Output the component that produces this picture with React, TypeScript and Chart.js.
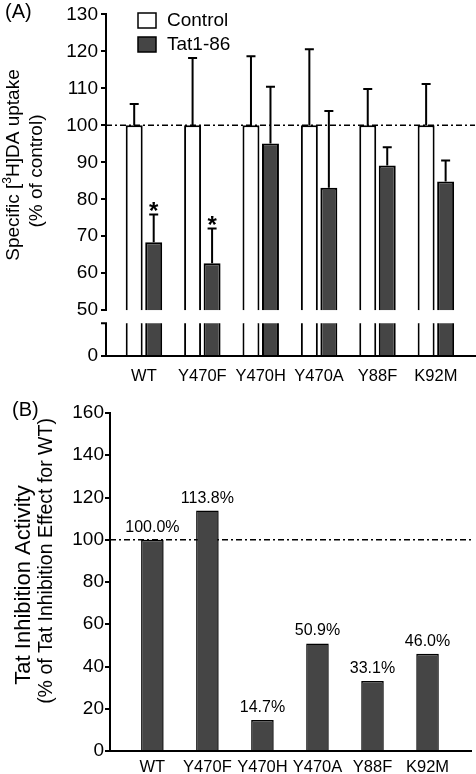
import React, { useEffect, useRef } from 'react';
import { Chart, registerables } from 'chart.js';

Chart.register(...registerables);

// ---------- data ----------
const CATEGORIES = ['WT', 'Y470F', 'Y470H', 'Y470A', 'Y88F', 'K92M'];

// Panel A: specific [3H]DA uptake (% of control), mean and upper SEM
const CONTROL_MEAN = [100, 100, 100, 100, 100, 100];
const CONTROL_ERR = [5.8, 18.2, 18.7, 20.6, 9.8, 11.2];
const TAT_MEAN = [68.4, 62.7, 95.1, 83.1, 89.1, 84.8];
const TAT_ERR = [7.5, 9.4, 15.3, 20.8, 5.0, 5.7];
const TAT_SIGNIFICANT = [true, true, false, false, false, false];
const SERIES_NAMES = ['Control', 'Tat1-86'];

const A_UPPER_MIN = 50;
const A_UPPER_MAX = 130;
const A_UPPER_STEP = 10;
const A_LOWER_MIN = 0;
const A_LOWER_MAX = 10;
const A_LOWER_TICKS = [0];

// Panel B: Tat inhibition activity (% of Tat inhibition effect for WT)
const INHIBITION = [100.0, 113.8, 14.7, 50.9, 33.1, 46.0];
const B_MIN = 0;
const B_MAX = 160;
const B_STEP = 20;

const REFERENCE_VALUE = 100;

// ---------- styles ----------
const FONT = "'Liberation Sans', Arial, Helvetica, sans-serif";
const DARK = '#454545';
const BLACK = '#000';
const BREAK_GAP = 13;
const DASH = [6, 3, 2, 3];

const W = 476;
const H_A = 390;
const H_B = 384;

function drawRotatedParts(ctx: any, cx: number, cy: number, parts: any[]) {
  ctx.save();
  ctx.translate(cx, cy);
  ctx.rotate(-Math.PI / 2);
  ctx.fillStyle = BLACK;
  ctx.textBaseline = 'middle';
  ctx.textAlign = 'left';
  let total = 0;
  const widths = parts.map((p) => {
    ctx.font = `${p.size}px ${FONT}`;
    const w = ctx.measureText(p.text).width;
    total += w;
    return w;
  });
  let x = -total / 2;
  parts.forEach((p, i) => {
    ctx.font = `${p.size}px ${FONT}`;
    ctx.fillText(p.text, x, p.dy || 0);
    x += widths[i];
  });
  ctx.restore();
}

function dashedRef(ctx: any, chart: any, yScale: any) {
  const y = yScale.getPixelForValue(REFERENCE_VALUE);
  ctx.save();
  ctx.strokeStyle = BLACK;
  ctx.lineWidth = 1.6;
  ctx.setLineDash(DASH);
  ctx.beginPath();
  ctx.moveTo(chart.chartArea.left, y);
  ctx.lineTo(chart.chartArea.right, y);
  ctx.stroke();
  ctx.restore();
}

const panelAPlugin = {
  id: 'panelA',
  beforeDatasetDraw(chart: any, args: any) {
    const meta = args.meta;
    const ys = chart.scales[meta.yAxisID];
    const { ctx, chartArea } = chart;
    const top = meta.yAxisID === 'y2' ? ys.top + BREAK_GAP : ys.top;
    ctx.save();
    ctx.beginPath();
    ctx.rect(chartArea.left, top, chartArea.right - chartArea.left, ys.bottom - top);
    ctx.clip();
  },
  afterDatasetDraw(chart: any) {
    chart.ctx.restore();
  },
  afterDatasetsDraw(chart: any) {
    const { ctx, chartArea } = chart;
    const y = chart.scales.y;
    const y2 = chart.scales.y2;
    dashedRef(ctx, chart, y);
    const series = [
      { meta: chart.getDatasetMeta(0), mean: CONTROL_MEAN, err: CONTROL_ERR },
      { meta: chart.getDatasetMeta(1), mean: TAT_MEAN, err: TAT_ERR },
    ];
    ctx.save();
    ctx.strokeStyle = BLACK;
    ctx.lineWidth = 2;
    series.forEach((s, si) => {
      s.meta.data.forEach((el: any, i: number) => {
        const top = y.getPixelForValue(s.mean[i] + s.err[i]);
        ctx.beginPath();
        ctx.moveTo(el.x, el.y);
        ctx.lineTo(el.x, top);
        ctx.moveTo(el.x - 4.5, top);
        ctx.lineTo(el.x + 4.5, top);
        ctx.stroke();
        if (si === 1 && TAT_SIGNIFICANT[i]) {
          ctx.fillStyle = BLACK;
          ctx.font = `bold 24px ${FONT}`;
          ctx.textAlign = 'center';
          ctx.textBaseline = 'alphabetic';
          ctx.fillText('*', el.x, top + 5);
        }
      });
    });
    ctx.restore();
    ctx.save();
    ctx.strokeStyle = BLACK;
    ctx.lineWidth = 2;
    ctx.beginPath();
    ctx.moveTo(chartArea.left, y2.top + BREAK_GAP);
    ctx.lineTo(chartArea.left, y2.bottom);
    ctx.moveTo(chartArea.left - 5, y2.top + BREAK_GAP);
    ctx.lineTo(chartArea.left + 1, y2.top + BREAK_GAP);
    ctx.stroke();
    ctx.restore();
  },
  afterDraw(chart: any) {
    const { ctx } = chart;
    const items = [
      { name: SERIES_NAMES[0], fill: '#fff', y: 13 },
      { name: SERIES_NAMES[1], fill: DARK, y: 37 },
    ];
    ctx.save();
    items.forEach((it) => {
      ctx.fillStyle = it.fill;
      ctx.fillRect(138, it.y, 18, 15);
      ctx.strokeStyle = BLACK;
      ctx.lineWidth = 1.5;
      ctx.strokeRect(138, it.y, 18, 15);
      ctx.fillStyle = BLACK;
      ctx.font = `19px ${FONT}`;
      ctx.textAlign = 'left';
      ctx.textBaseline = 'middle';
      ctx.fillText(it.name, 167, it.y + 8);
    });
    ctx.font = `20px ${FONT}`;
    ctx.textBaseline = 'middle';
    ctx.fillText('(A)', 5, 12);
    ctx.restore();
    drawRotatedParts(ctx, 14, 165, [
      { text: 'Specific [', size: 19 },
      { text: '3', size: 12, dy: -6 },
      { text: 'H]DA uptake', size: 19 },
    ]);
    drawRotatedParts(ctx, 37, 171, [{ text: '(% of control)', size: 19 }]);
  },
};

const panelBPlugin = {
  id: 'panelB',
  beforeDatasetsDraw(chart: any) {
    dashedRef(chart.ctx, chart, chart.scales.y);
  },
  afterDatasetsDraw(chart: any) {
    const { ctx } = chart;
    const meta = chart.getDatasetMeta(0);
    ctx.save();
    ctx.fillStyle = BLACK;
    ctx.font = `16px ${FONT}`;
    ctx.textAlign = 'center';
    ctx.textBaseline = 'alphabetic';
    meta.data.forEach((el: any, i: number) => {
      ctx.fillText(`${INHIBITION[i].toFixed(1)}%`, el.x, el.y - 8);
    });
    ctx.restore();
  },
  afterDraw(chart: any) {
    const { ctx } = chart;
    ctx.save();
    ctx.fillStyle = BLACK;
    ctx.font = `20px ${FONT}`;
    ctx.textAlign = 'left';
    ctx.textBaseline = 'middle';
    ctx.fillText('(B)', 12, 20);
    ctx.restore();
    drawRotatedParts(ctx, 24, 195, [{ text: 'Tat Inhibition Activity', size: 22 }]);
    drawRotatedParts(ctx, 47, 171, [{ text: '(% of Tat Inhibition Effect for WT)', size: 19.5 }]);
  },
};

const categoryTicks = (axis: any) => {
  axis.ticks = CATEGORIES.map((_, i) => ({ value: i }));
};

const yTickGrid = {
  display: true,
  drawOnChartArea: false,
  drawTicks: true,
  tickLength: 5,
  color: BLACK,
  lineWidth: 2,
};

function makeConfigA(): any {
  const pts = (arr: number[]) => arr.map((v, i) => ({ x: i, y: v }));
  const common = {
    borderColor: BLACK,
    borderWidth: 2,
    borderSkipped: 'start',
    categoryPercentage: 0.668,
    barPercentage: 0.87,
  };
  return {
    type: 'bar',
    data: {
      datasets: [
        { ...common, label: SERIES_NAMES[0], data: pts(CONTROL_MEAN), backgroundColor: '#fff', yAxisID: 'y', stack: 'c' },
        { ...common, label: SERIES_NAMES[1], data: pts(TAT_MEAN), backgroundColor: DARK, yAxisID: 'y', stack: 't' },
        { ...common, label: SERIES_NAMES[0], data: pts(CONTROL_MEAN), backgroundColor: '#fff', yAxisID: 'y2', stack: 'c' },
        { ...common, label: SERIES_NAMES[1], data: pts(TAT_MEAN), backgroundColor: DARK, yAxisID: 'y2', stack: 't' },
      ],
    },
    options: {
      responsive: false,
      animation: false,
      layout: { padding: { top: 13, right: 1, left: 0, bottom: 0 } },
      plugins: { legend: { display: false }, tooltip: { enabled: false }, title: { display: false } },
      scales: {
        x: {
          type: 'linear',
          offset: false,
          min: -0.65,
          max: 5.67,
          afterBuildTicks: categoryTicks,
          afterFit: (s: any) => { s.height = H_A - 356; },
          grid: { display: false, drawTicks: false },
          border: { display: true, color: BLACK, width: 2 },
          ticks: {
            autoSkip: false,
            maxRotation: 0,
            padding: 11,
            color: BLACK,
            font: { family: FONT, size: 16.5 },
            callback: (v: any) => CATEGORIES[v] ?? '',
          },
        },
        y: {
          type: 'linear',
          position: 'left',
          stack: 'left',
          stackWeight: 297,
          weight: 1,
          stacked: false,
          min: A_UPPER_MIN,
          max: A_UPPER_MAX,
          afterFit: (s: any) => { s.width = 106; },
          grid: yTickGrid,
          border: { display: true, color: BLACK, width: 2 },
          ticks: { stepSize: A_UPPER_STEP, autoSkip: false, padding: 3, color: BLACK, font: { family: FONT, size: 19 } },
        },
        y2: {
          type: 'linear',
          position: 'left',
          stack: 'left',
          stackWeight: 46,
          weight: 0,
          stacked: false,
          min: A_LOWER_MIN,
          max: A_LOWER_MAX,
          afterBuildTicks: (axis: any) => { axis.ticks = A_LOWER_TICKS.map((v) => ({ value: v })); },
          afterFit: (s: any) => { s.width = 106; },
          grid: yTickGrid,
          border: { display: false },
          ticks: { autoSkip: false, padding: 3, color: BLACK, font: { family: FONT, size: 19 } },
        },
      },
    },
    plugins: [panelAPlugin],
  };
}

function makeConfigB(): any {
  return {
    type: 'bar',
    data: {
      datasets: [
        {
          label: 'Tat inhibition',
          data: INHIBITION.map((v, i) => ({ x: i, y: v })),
          backgroundColor: DARK,
          borderColor: BLACK,
          borderWidth: 1.5,
          borderSkipped: 'start',
          categoryPercentage: 1,
          barPercentage: 0.41,
        },
      ],
    },
    options: {
      responsive: false,
      animation: false,
      layout: { padding: { top: 23, right: 5, left: 0, bottom: 0 } },
      plugins: { legend: { display: false }, tooltip: { enabled: false }, title: { display: false } },
      scales: {
        x: {
          type: 'linear',
          offset: false,
          min: -0.77,
          max: 5.79,
          afterBuildTicks: categoryTicks,
          afterFit: (s: any) => { s.height = 23; },
          grid: { display: false, drawTicks: false },
          border: { display: true, color: BLACK, width: 2 },
          ticks: {
            autoSkip: false,
            maxRotation: 0,
            padding: 7,
            color: BLACK,
            font: { family: FONT, size: 16.5 },
            callback: (v: any) => CATEGORIES[v] ?? '',
          },
        },
        y: {
          type: 'linear',
          position: 'left',
          min: B_MIN,
          max: B_MAX,
          afterFit: (s: any) => { s.width = 110; },
          grid: yTickGrid,
          border: { display: true, color: BLACK, width: 2 },
          ticks: { stepSize: B_STEP, autoSkip: false, padding: 1, color: BLACK, font: { family: FONT, size: 19 } },
        },
      },
    },
    plugins: [panelBPlugin],
  };
}

export default function App() {
  const refA = useRef<HTMLCanvasElement>(null);
  const refB = useRef<HTMLCanvasElement>(null);
  useEffect(() => {
    const a = new Chart(refA.current as HTMLCanvasElement, makeConfigA());
    const b = new Chart(refB.current as HTMLCanvasElement, makeConfigB());
    return () => {
      a.destroy();
      b.destroy();
    };
  }, []);
  return (
    <div style={{ position: 'absolute', left: 0, top: 0, width: W, height: H_A + H_B, background: '#fff' }}>
      <canvas ref={refA} width={W} height={H_A} style={{ position: 'absolute', left: 0, top: 0 }} />
      <canvas ref={refB} width={W} height={H_B} style={{ position: 'absolute', left: 0, top: H_A }} />
    </div>
  );
}
